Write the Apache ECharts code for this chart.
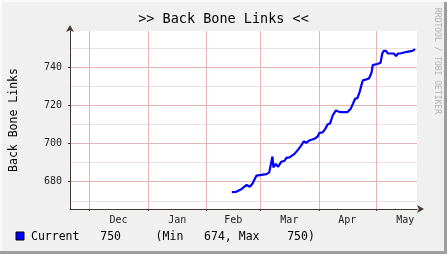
<!DOCTYPE html>
<html><head><meta charset="utf-8">
<script src="https://cdn.jsdelivr.net/npm/echarts@6/dist/echarts.min.js"></script>
<style>html,body{margin:0;padding:0;background:#f0f0f0}#c{width:447px;height:254px}</style>
</head><body><div id="c"></div>
<script>
// x in days since Nov 21
const days = [85.2,87.3,88.3,90.4,93.0,94.7,96.1,98.2,99.1,103.4,104.9,105.7,106.6,107.1,108.3,109.6,111.3,113.0,113.9,115.6,118.2,120.0,121.7,123.1,124.3,126.0,128.7,130.4,131.3,133.0,134.4,135.6,137.0,138.3,140.0,141.2,142.6,143.5,144.3,146.1,147.8,149.0,150.1,151.3,152.5,153.4,154.2,155.6,157.4,158.2,158.8,159.4,159.9,161.7,163.5,164.4,165.2,166.4,167.3,170.4,171.7,172.7,173.9,174.8,177.4,178.3,180.3,181.7];
const values = [674.5,674.6,674,676.2,678.3,677.4,679.1,683.2,684,684,684.9,684,693.2,687.5,689.3,687.9,690.5,691,692.5,692.8,694.6,696.7,698.9,701.2,700.4,701.6,702.5,703.7,705.6,705.9,707.7,710,710.7,714.7,717.4,716.8,716.5,717.4,716.5,716.5,718.3,720.9,723.5,723.8,727,730.5,733.2,733.5,734.1,735.8,737.5,741.1,741.7,741.7,742.3,747.2,748.6,748.6,747.2,747.2,745.9,747.2,747.2,748.1,748.1,748.4,748.6,749.5];
const monthStarts = [10,41,72,100,131,161];
const monthLabelPos = [25.5,56.5,86,115.5,146,176.5];
const monthNames = ['Dec','Jan','Feb','Mar','Apr','May'];
const yMajor = [680,700,720,740];
const yMinor = [670,690,710,730,750];
const legendStats = {current: '750', min: '674', max: '750'};

const mono = 'DejaVu Sans Mono';
const chart = echarts.init(document.getElementById('c'), null, {renderer:'canvas'});
const data = days.map((d,i)=>[d, values[i]]);
const legendText = 'Current   ' + legendStats.current + '     (Min   ' + legendStats.min + ', Max    ' + legendStats.max + ')';
chart.setOption({
  animation:false,
  backgroundColor:'#f0f0f0',
  title:{text:'>> Back Bone Links <<', left:'center', top:7,
    textStyle:{fontFamily:mono, fontSize:13.5, fontWeight:'normal', color:'#000'}},
  grid:{left:67, top:31, width:350, height:178, show:true, backgroundColor:'#ffffff', borderWidth:0},
  xAxis:[{
    type:'value', min:0, max:182.7,
    axisLine:{show:true, lineStyle:{color:'#4a3535', width:1}, symbol:['none','arrow'], symbolSize:[6,7], symbolOffset:[0,7]},
    axisTick:{show:true, customValues:monthStarts, length:2, inside:false, lineStyle:{color:'#4a3535'}},
    splitLine:{show:true, lineStyle:{color:'#e2b4b4', width:1}},
    axisLabel:{customValues:monthLabelPos, margin:6, fontFamily:mono, fontSize:10, color:'#222',
      formatter:(v)=>{const i=monthLabelPos.indexOf(v); return i>=0?monthNames[i]:'';}}
  }],
  yAxis:[{
    type:'value', min:665.7, max:759,
    axisLine:{show:false}, axisTick:{show:false, customValues:yMinor},
    splitLine:{show:true, lineStyle:{color:'#eedede', width:1}},
    axisLabel:{show:false}
  },{
    type:'value', min:665.7, max:759, position:'left',
    name:'Back Bone Links', nameLocation:'middle', nameGap:50,
    nameTextStyle:{fontFamily:mono, fontSize:11.5, color:'#000'},
    axisLine:{show:true, lineStyle:{color:'#4a3535', width:1}, symbol:['none','arrow'], symbolSize:[6,7], symbolOffset:[0,6]},
    axisTick:{show:true, customValues:yMajor, length:2, lineStyle:{color:'#4a3535'}},
    splitLine:{show:true, lineStyle:{color:'#e2b4b4', width:1}},
    axisLabel:{customValues:yMajor, margin:8, fontFamily:mono, fontSize:10, color:'#222'}
  }],
  series:[{
    type:'line', xAxisIndex:0, yAxisIndex:1, data:data, symbol:'none',
    lineStyle:{color:'#0000ff', width:2.2}, silent:true
  }],
  graphic:[
    {type:'rect', shape:{x:16, y:232, width:8, height:8}, style:{fill:'#0000ff', stroke:'#000', lineWidth:1}},
    {type:'text', x:31, y:237, style:{text:legendText, font:'11.5px "DejaVu Sans Mono"', fill:'#000', textVerticalAlign:'middle'}},
    {type:'text', x:437, y:8, rotation:-Math.PI/2, style:{text:'RRDTOOL / TOBI OETIKER', font:'8px "DejaVu Sans Mono"', fill:'#b0b0b0', textVerticalAlign:'middle'}},
    {type:'rect', shape:{x:444, y:0, width:3, height:254}, style:{fill:'#9e9e9e'}},
    {type:'rect', shape:{x:0, y:251, width:447, height:3}, style:{fill:'#9e9e9e'}},
    {type:'rect', shape:{x:0, y:0, width:447, height:2}, style:{fill:'#fafafa'}},
    {type:'rect', shape:{x:0, y:0, width:2, height:251}, style:{fill:'#fafafa'}}
  ]
});
</script></body></html>
